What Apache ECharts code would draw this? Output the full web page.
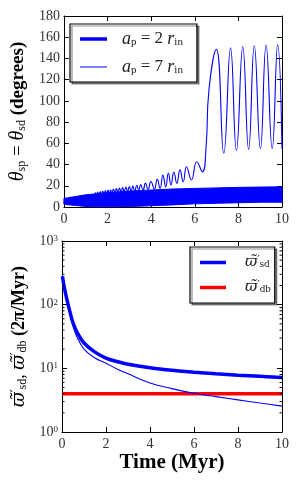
<!DOCTYPE html>
<html><head><meta charset="utf-8">
<script src="https://cdn.jsdelivr.net/npm/echarts@6/dist/echarts.min.js"></script>
<style>html,body{margin:0;padding:0;background:#fff}#c{width:300px;height:480px}</style>
</head><body><div id="c"></div><script>
// ---- Top panel: theta_sp = theta_sd (degrees) vs time (Myr)
const xTicksTop = [0, 2, 4, 6, 8, 10];
const yTicksTop = [0, 20, 40, 60, 80, 100, 120, 140, 160, 180];
// a_p = 2 r_in : rapid oscillation drawn as its envelope (lower / upper edge)
const bandX    = [0, 0.5, 1, 1.5, 2, 2.5, 3, 3.5, 4, 5, 6, 7, 8, 9, 10];
const bandLow  = [2.5, 1.5, 0.5, 0.2, 0.2, 0.3, 0.5, 0.8, 1.2, 2, 3, 3.5, 4, 4.5, 4.5];
const bandHigh = [8, 9.8, 11.5, 12.5, 13.5, 14.2, 15, 15.5, 16, 17, 17.5, 18, 18.5, 18.8, 19];
// a_p = 7 r_in : peaks and troughs
const thinX = [0, 0.5, 1.0, 1.4, 1.45, 1.5, 1.55, 1.6, 1.66, 1.72, 1.78, 1.84, 1.9, 1.96, 2.02, 2.08, 2.14, 2.2, 2.27, 2.34, 2.41, 2.48, 2.55, 2.62, 2.69, 2.76, 2.84, 2.92, 3.0, 3.08, 3.16, 3.25, 3.34, 3.43, 3.52, 3.63, 3.74, 3.86, 3.99, 4.15, 4.28, 4.41, 4.54, 4.67, 4.79, 4.91, 5.04, 5.18, 5.32, 5.47, 5.62, 5.85, 6.09, 6.35, 6.52, 6.65, 6.99, 7.33, 7.64, 7.91, 8.2, 8.47, 8.73, 9.01, 9.27, 9.55, 9.8, 10.0];
const thinY = [5, 7, 9, 11, 13.5, 10, 14, 10.5, 14.5, 11, 15, 11.5, 15.5, 12, 16, 12.5, 16.3, 13, 16.8, 13.5, 17.3, 14, 17.8, 14, 18.3, 14.5, 18.8, 14.5, 19.3, 15, 19.8, 15, 20.5, 15.5, 21.2, 16, 22.5, 16.5, 24, 17, 26, 17.6, 30, 19, 32, 20.7, 33, 22.3, 35, 23.8, 38, 25.5, 42.7, 33, 57, 110, 148.6, 50.6, 150, 53, 151, 54, 152, 55, 152.7, 55, 153, 55, 110];

// ---- Bottom panel: precession rates (2pi/Myr), log scale
const timeX   = [0.02, 0.1, 0.2, 0.35, 0.5, 0.7, 1, 1.5, 2, 2.5, 3, 4, 5, 6, 7, 8, 9, 10];
const sdThick = [280, 190, 130, 80, 52, 36, 25, 18, 14.5, 12.8, 11.6, 10.2, 9.3, 8.7, 8.2, 7.8, 7.5, 7.2];
const sdThin  = [280, 185, 120, 72, 46, 30, 20, 14.5, 12, 9.8, 8.2, 5.9, 4.8, 4.05, 3.6, 3.2, 2.85, 2.55];
const dbX = [0, 10];
const dbY = [4.0, 4.0];
const logDecades = [0, 1, 2, 3];

const SERIF = 'Liberation Serif';
const BLUE = '#0000ff';
const minorVals = [];
for (let k = logDecades[0]; k < logDecades[logDecades.length - 1]; k++)
  for (let m = 2; m <= 9; m++) minorVals.push(m * Math.pow(10, k));

const pairs = (xs, ys) => xs.map((x, i) => [x, ys[i]]);
const tick = {show: true, inside: true, length: 5, lineStyle: {color: '#000', width: 1}};
const line = {show: true, onZero: false, lineStyle: {color: '#000', width: 1}};
const lbl = {fontFamily: SERIF, fontSize: 14, color: '#333'};
const omegaRich = {
  w: {fontFamily: 'DejaVu Serif', fontSize: 15, fontStyle: 'italic', color: '#222'},
  p: {fontFamily: 'DejaVu Serif', fontSize: 11, color: '#222', verticalAlign: 'top', lineHeight: 11},
  sub: {fontFamily: SERIF, fontSize: 11, color: '#222', verticalAlign: 'bottom', lineHeight: 11}
};

const chart = echarts.init(document.getElementById('c'), null, {renderer: 'canvas'});
chart.setOption({
  animation: false,
  backgroundColor: '#fff',
  grid: [
    {left: 62, right: 18, top: 16, height: 191},
    {left: 62, right: 18, top: 241, height: 191}
  ],
  xAxis: [
    {type: 'value', gridIndex: 0, min: 0, max: 10, interval: 2, position: 'bottom',
     axisLine: line, axisTick: tick, splitLine: {show: false},
     axisLabel: Object.assign({margin: 5}, lbl)},
    {type: 'value', gridIndex: 0, min: 0, max: 10, interval: 2, position: 'top',
     axisLine: line, axisTick: tick, splitLine: {show: false}, axisLabel: {show: false}},
    {type: 'value', gridIndex: 1, min: 0, max: 10, interval: 2, position: 'bottom',
     axisLine: line, axisTick: tick, splitLine: {show: false},
     axisLabel: Object.assign({margin: 5}, lbl),
     name: 'Time (Myr)', nameLocation: 'middle', nameGap: 20,
     nameTextStyle: {fontFamily: SERIF, fontSize: 21, fontWeight: 'bold', color: '#000'}},
    {type: 'value', gridIndex: 1, min: 0, max: 10, interval: 2, position: 'top',
     axisLine: line, axisTick: tick, splitLine: {show: false}, axisLabel: {show: false}}
  ],
  yAxis: [
    {type: 'value', gridIndex: 0, min: 0, max: 180, interval: 20, position: 'left',
     axisLine: line, axisTick: tick, splitLine: {show: false},
     axisLabel: Object.assign({margin: 4}, lbl),
     name: '{it|θ}{sub|sp}{n| = }{it|θ}{sub|sd}{b| (degrees)}',
     nameLocation: 'middle', nameGap: 34, nameRotate: 90,
     nameTextStyle: {fontFamily: SERIF, fontSize: 19, color: '#000',
       rich: {it: {fontFamily: SERIF, fontSize: 20, fontStyle: 'italic', color: '#000'},
              sub: {fontFamily: SERIF, fontSize: 12, color: '#000', verticalAlign: 'bottom', lineHeight: 12},
              n: {fontFamily: SERIF, fontSize: 19, color: '#000'},
              b: {fontFamily: SERIF, fontSize: 19, fontWeight: 'bold', color: '#000'}}}},
    {type: 'value', gridIndex: 0, min: 0, max: 180, interval: 20, position: 'right',
     axisLine: line, axisTick: tick, splitLine: {show: false}, axisLabel: {show: false}},
    {type: 'log', logBase: 10, gridIndex: 1, min: 1, max: 1000, position: 'left',
     axisLine: line, axisTick: tick, splitLine: {show: false},
     axisLabel: Object.assign({margin: 4,
       formatter: v => '{b|10}{s|' + Math.round(Math.log10(v)) + '}',
       rich: {b: {fontFamily: SERIF, fontSize: 14, color: '#333'},
              s: {fontFamily: SERIF, fontSize: 9, color: '#333', verticalAlign: 'top', lineHeight: 9}}}, lbl),
     name: '{w|ϖ̃}{p|′}{sub|sd}{n|, }{w|ϖ̃}{p|′}{sub|db}{b| (2π/Myr)}',
     nameLocation: 'middle', nameGap: 30, nameRotate: 90,
     nameTextStyle: {fontFamily: SERIF, fontSize: 18, color: '#000',
       rich: {w: {fontFamily: 'DejaVu Serif', fontSize: 18, fontStyle: 'italic', color: '#000'},
              p: {fontFamily: 'DejaVu Serif', fontSize: 12, color: '#000', verticalAlign: 'top', lineHeight: 12},
              sub: {fontFamily: SERIF, fontSize: 12, color: '#000', verticalAlign: 'bottom', lineHeight: 12},
              n: {fontFamily: SERIF, fontSize: 18, color: '#000'},
              b: {fontFamily: SERIF, fontSize: 18, fontWeight: 'bold', color: '#000'}}}},
    {type: 'log', logBase: 10, gridIndex: 1, min: 1, max: 1000, position: 'right',
     axisLine: line, axisTick: tick, splitLine: {show: false}, axisLabel: {show: false}}
  ],
  legend: [
    {left: 70, top: 24, orient: 'vertical', borderColor: '#000', borderWidth: 1.2,
     backgroundColor: '#fff', shadowColor: 'rgba(0,0,0,0.45)', shadowOffsetX: 2, shadowOffsetY: 2,
     padding: [6, 14, 6, 10], itemWidth: 27, itemHeight: 14, itemGap: 10,
     data: [{name: 'ap2', icon: 'path://M0,0H27V3.5H0Z'}, {name: 'ap7', icon: 'path://M0,0H27V1H0Z'}],
     formatter: n => n === 'ap2' ? '{i|a}{sub|p}{n| = 2 }{i|r}{sub|in}' : '{i|a}{sub|p}{n| = 7 }{i|r}{sub|in}',
     textStyle: {fontFamily: SERIF, fontSize: 17, color: '#222', padding: [0, 0, 0, 10],
       rich: {i: {fontFamily: SERIF, fontSize: 18, fontStyle: 'italic', color: '#222'},
              sub: {fontFamily: SERIF, fontSize: 11, color: '#222', verticalAlign: 'bottom', lineHeight: 11},
              n: {fontFamily: SERIF, fontSize: 17, color: '#222'}}}},
    {left: 190, top: 247, orient: 'vertical', borderColor: '#000', borderWidth: 1.2,
     backgroundColor: '#fff', shadowColor: 'rgba(0,0,0,0.45)', shadowOffsetX: 2, shadowOffsetY: 2,
     padding: [8, 4, 8, 10], itemWidth: 26, itemHeight: 18, itemGap: 10,
     data: [{name: 'sd', icon: 'path://M0,0H26V3.5H0Z'}, {name: 'db', icon: 'path://M0,0H26V3.5H0Z'}],
     formatter: n => n === 'sd' ? '{w|ϖ̃}{p|′}{sub|sd}' : '{w|ϖ̃}{p|′}{sub|db}',
     textStyle: {fontFamily: SERIF, fontSize: 16, color: '#222', padding: [0, 0, 0, 14], rich: omegaRich}}
  ],
  series: [
    {name: 'ap2', type: 'custom', xAxisIndex: 0, yAxisIndex: 0, z: 2,
     itemStyle: {color: BLUE}, color: BLUE,
     data: bandX.map((x, i) => [x, bandLow[i], bandHigh[i]]),
     renderItem: (params, api) => {
       if (params.dataIndex !== 0) return null;
       const pts = [];
       for (let i = 0; i < bandX.length; i++) pts.push(api.coord([bandX[i], bandHigh[i]]));
       for (let i = bandX.length - 1; i >= 0; i--) pts.push(api.coord([bandX[i], bandLow[i]]));
       return {type: 'polygon', shape: {points: pts}, style: {fill: BLUE, stroke: BLUE, lineWidth: 1}};
     }},
    {name: 'ap7', type: 'line', xAxisIndex: 0, yAxisIndex: 0, showSymbol: false, smooth: 0.5, z: 3,
     color: BLUE, lineStyle: {width: 1.1, color: BLUE}, data: pairs(thinX, thinY)},
    {name: 'db', type: 'line', xAxisIndex: 2, yAxisIndex: 2, showSymbol: false,
     color: '#ff0000', lineStyle: {width: 3.5, color: '#ff0000'}, data: pairs(dbX, dbY)},
    {name: 'sd', type: 'line', xAxisIndex: 2, yAxisIndex: 2, showSymbol: false, smooth: 0.4,
     color: BLUE, lineStyle: {width: 3.5, color: BLUE}, data: pairs(timeX, sdThick)},
    {name: 'sd7', type: 'line', xAxisIndex: 2, yAxisIndex: 2, showSymbol: false, smooth: 0.4,
     color: BLUE, lineStyle: {width: 1.1, color: BLUE}, data: pairs(timeX, sdThin)},
    {name: 'minor', type: 'custom', xAxisIndex: 2, yAxisIndex: 2, silent: true, z: 5,
     data: minorVals.map(v => [0, v]),
     renderItem: (params, api) => {
       const v = api.value(1);
       const pL = api.coord([0, v]);
       const pR = api.coord([10, v]);
       return {type: 'group', children: [
         {type: 'line', shape: {x1: pL[0], y1: pL[1], x2: pL[0] + 2.5, y2: pL[1]}, style: {stroke: '#000', lineWidth: 1}},
         {type: 'line', shape: {x1: pR[0] - 2.5, y1: pR[1], x2: pR[0], y2: pR[1]}, style: {stroke: '#000', lineWidth: 1}}
       ]};
     }}
  ]
});
</script></body></html>
